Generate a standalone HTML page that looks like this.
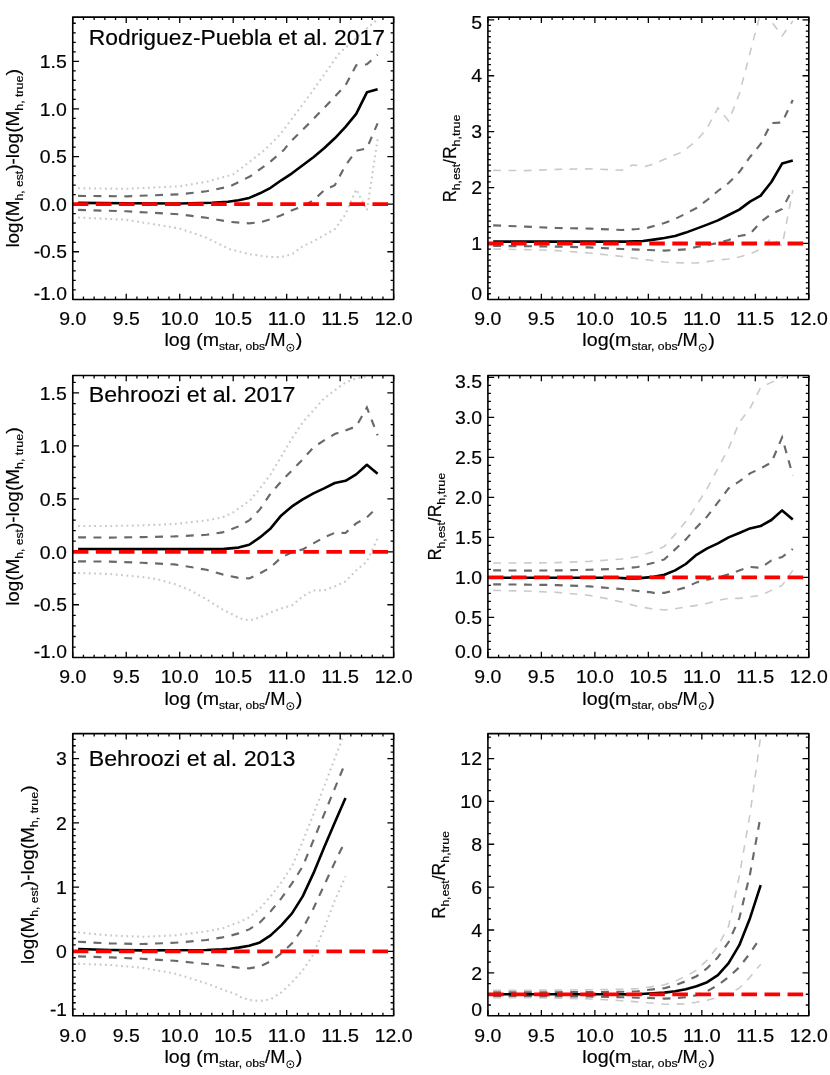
<!DOCTYPE html>
<html><head><meta charset="utf-8"><title>chart</title>
<style>
html,body{margin:0;padding:0;background:#fff;overflow:hidden}
#wrap{width:830px;height:1075px;will-change:transform;background:#fff}
svg{display:block}
text{font-family:"Liberation Sans",sans-serif;stroke:#000;stroke-width:0.18px}
</style></head><body>
<div id="wrap">
<svg width="830" height="1075" viewBox="0 0 830 1075">
<rect width="830" height="1075" fill="#fff"/>
<path d="M72.75 299.45v-5.80M72.75 17.10v5.80M83.45 299.45v-2.90M83.45 17.10v2.90M94.14 299.45v-2.90M94.14 17.10v2.90M104.84 299.45v-2.90M104.84 17.10v2.90M115.54 299.45v-2.90M115.54 17.10v2.90M126.23 299.45v-5.80M126.23 17.10v5.80M136.93 299.45v-2.90M136.93 17.10v2.90M147.63 299.45v-2.90M147.63 17.10v2.90M158.32 299.45v-2.90M158.32 17.10v2.90M169.02 299.45v-2.90M169.02 17.10v2.90M179.72 299.45v-5.80M179.72 17.10v5.80M190.41 299.45v-2.90M190.41 17.10v2.90M201.11 299.45v-2.90M201.11 17.10v2.90M211.81 299.45v-2.90M211.81 17.10v2.90M222.50 299.45v-2.90M222.50 17.10v2.90M233.20 299.45v-5.80M233.20 17.10v5.80M243.90 299.45v-2.90M243.90 17.10v2.90M254.59 299.45v-2.90M254.59 17.10v2.90M265.29 299.45v-2.90M265.29 17.10v2.90M275.99 299.45v-2.90M275.99 17.10v2.90M286.68 299.45v-5.80M286.68 17.10v5.80M297.38 299.45v-2.90M297.38 17.10v2.90M308.08 299.45v-2.90M308.08 17.10v2.90M318.77 299.45v-2.90M318.77 17.10v2.90M329.47 299.45v-2.90M329.47 17.10v2.90M340.17 299.45v-5.80M340.17 17.10v5.80M350.86 299.45v-2.90M350.86 17.10v2.90M361.56 299.45v-2.90M361.56 17.10v2.90M372.26 299.45v-2.90M372.26 17.10v2.90M382.95 299.45v-2.90M382.95 17.10v2.90M393.65 299.45v-5.80M393.65 17.10v5.80M72.75 289.83h3.00M393.65 289.83h-3.00M72.75 280.31h3.00M393.65 280.31h-3.00M72.75 270.79h3.00M393.65 270.79h-3.00M72.75 261.27h3.00M393.65 261.27h-3.00M72.75 251.75h6.30M393.65 251.75h-6.30M72.75 242.23h3.00M393.65 242.23h-3.00M72.75 232.71h3.00M393.65 232.71h-3.00M72.75 223.19h3.00M393.65 223.19h-3.00M72.75 213.67h3.00M393.65 213.67h-3.00M72.75 204.15h6.30M393.65 204.15h-6.30M72.75 194.63h3.00M393.65 194.63h-3.00M72.75 185.11h3.00M393.65 185.11h-3.00M72.75 175.59h3.00M393.65 175.59h-3.00M72.75 166.07h3.00M393.65 166.07h-3.00M72.75 156.55h6.30M393.65 156.55h-6.30M72.75 147.03h3.00M393.65 147.03h-3.00M72.75 137.51h3.00M393.65 137.51h-3.00M72.75 127.99h3.00M393.65 127.99h-3.00M72.75 118.47h3.00M393.65 118.47h-3.00M72.75 108.95h6.30M393.65 108.95h-6.30M72.75 99.43h3.00M393.65 99.43h-3.00M72.75 89.91h3.00M393.65 89.91h-3.00M72.75 80.39h3.00M393.65 80.39h-3.00M72.75 70.87h3.00M393.65 70.87h-3.00M72.75 61.35h6.30M393.65 61.35h-6.30M72.75 51.83h3.00M393.65 51.83h-3.00M72.75 42.31h3.00M393.65 42.31h-3.00M72.75 32.79h3.00M393.65 32.79h-3.00M72.75 23.27h3.00M393.65 23.27h-3.00" stroke="#000" stroke-width="1.3" fill="none"/>
<clipPath id="c1"><rect x="72.75" y="17.10" width="320.90" height="282.35"/></clipPath>
<g clip-path="url(#c1)" fill="none">
<path d="M78.1 188.3 L126.2 188.8 L179.7 186.3 L206.5 181.8 L233.2 174.3 L250.3 161.3 L264.2 150.3 L280.3 134.3 L310.2 94.3 L339.1 53.4 L376.5 20.0 L377.6 18.9" stroke="#c9c9c9" stroke-width="2.1" stroke-dasharray="1.8 3.58"/>
<path d="M78.1 217.5 L126.2 219.8 L179.7 228.5 L206.5 237.8 L230.0 249.3 L250.3 254.3 L269.6 257.0 L281.3 257.0 L292.0 254.3 L302.7 246.3 L313.4 241.3 L324.1 235.3 L334.8 229.3 L345.5 214.3 L356.2 189.3 L366.9 210.3 L377.6 139.3" stroke="#c9c9c9" stroke-width="2.1" stroke-dasharray="1.8 3.58"/>
<path d="M78.1 195.9 L126.2 196.3 L179.7 194.3 L206.5 191.3 L230.0 186.3 L250.3 176.3 L269.6 162.3 L283.5 150.3 L289.9 142.3 L310.2 122.3 L330.5 101.3 L345.5 85.3 L356.2 65.3 L366.9 64.3 L377.6 54.8" stroke="#696969" stroke-width="2.15" stroke-dasharray="7.9 7.5"/>
<path d="M78.1 209.9 L126.2 211.3 L179.7 214.3 L206.5 217.8 L230.0 221.9 L249.2 223.3 L259.9 222.3 L270.6 219.3 L281.3 215.3 L292.0 210.3 L302.7 206.3 L313.4 200.3 L324.1 190.3 L334.8 185.3 L345.5 165.3 L356.2 150.8 L366.9 148.3 L377.6 123.3" stroke="#696969" stroke-width="2.15" stroke-dasharray="7.9 7.5"/>
<path d="M78.1 202.9 L126.2 203.3 L179.7 203.5 L211.8 202.8 L227.9 201.7 L238.5 200.3 L249.2 197.9 L259.9 193.3 L270.6 187.8 L281.3 180.3 L292.0 173.3 L302.7 165.3 L313.4 157.3 L324.1 148.3 L334.8 138.3 L345.5 126.9 L356.2 113.9 L366.9 92.3 L377.6 89.3" stroke="#000" stroke-width="2.6" stroke-linejoin="round"/>
<path d="M72.8 204.2 H388.1" stroke="#ff0000" stroke-width="3.8" stroke-dasharray="15.6 7.45"/>
</g>
<rect x="72.75" y="17.10" width="320.90" height="282.35" fill="none" stroke="#000" stroke-width="1.6" stroke-linejoin="round"/>
<circle cx="290.34" cy="347.70" r="3.55" fill="none" stroke="#000" stroke-width="0.95"/>
<circle cx="290.34" cy="347.70" r="0.95" fill="#000"/>
<path d="M487.90 299.45v-5.80M487.90 17.10v5.80M498.60 299.45v-2.90M498.60 17.10v2.90M509.29 299.45v-2.90M509.29 17.10v2.90M519.99 299.45v-2.90M519.99 17.10v2.90M530.69 299.45v-2.90M530.69 17.10v2.90M541.38 299.45v-5.80M541.38 17.10v5.80M552.08 299.45v-2.90M552.08 17.10v2.90M562.78 299.45v-2.90M562.78 17.10v2.90M573.47 299.45v-2.90M573.47 17.10v2.90M584.17 299.45v-2.90M584.17 17.10v2.90M594.87 299.45v-5.80M594.87 17.10v5.80M605.56 299.45v-2.90M605.56 17.10v2.90M616.26 299.45v-2.90M616.26 17.10v2.90M626.96 299.45v-2.90M626.96 17.10v2.90M637.65 299.45v-2.90M637.65 17.10v2.90M648.35 299.45v-5.80M648.35 17.10v5.80M659.05 299.45v-2.90M659.05 17.10v2.90M669.74 299.45v-2.90M669.74 17.10v2.90M680.44 299.45v-2.90M680.44 17.10v2.90M691.14 299.45v-2.90M691.14 17.10v2.90M701.83 299.45v-5.80M701.83 17.10v5.80M712.53 299.45v-2.90M712.53 17.10v2.90M723.23 299.45v-2.90M723.23 17.10v2.90M733.92 299.45v-2.90M733.92 17.10v2.90M744.62 299.45v-2.90M744.62 17.10v2.90M755.32 299.45v-5.80M755.32 17.10v5.80M766.01 299.45v-2.90M766.01 17.10v2.90M776.71 299.45v-2.90M776.71 17.10v2.90M787.41 299.45v-2.90M787.41 17.10v2.90M798.10 299.45v-2.90M798.10 17.10v2.90M808.80 299.45v-5.80M808.80 17.10v5.80M487.90 293.76h3.00M808.80 293.76h-3.00M487.90 288.17h3.00M808.80 288.17h-3.00M487.90 282.58h3.00M808.80 282.58h-3.00M487.90 276.99h3.00M808.80 276.99h-3.00M487.90 271.40h3.00M808.80 271.40h-3.00M487.90 265.81h3.00M808.80 265.81h-3.00M487.90 260.22h3.00M808.80 260.22h-3.00M487.90 254.63h3.00M808.80 254.63h-3.00M487.90 249.04h3.00M808.80 249.04h-3.00M487.90 243.45h6.30M808.80 243.45h-6.30M487.90 237.86h3.00M808.80 237.86h-3.00M487.90 232.27h3.00M808.80 232.27h-3.00M487.90 226.68h3.00M808.80 226.68h-3.00M487.90 221.09h3.00M808.80 221.09h-3.00M487.90 215.50h3.00M808.80 215.50h-3.00M487.90 209.91h3.00M808.80 209.91h-3.00M487.90 204.32h3.00M808.80 204.32h-3.00M487.90 198.73h3.00M808.80 198.73h-3.00M487.90 193.14h3.00M808.80 193.14h-3.00M487.90 187.55h6.30M808.80 187.55h-6.30M487.90 181.96h3.00M808.80 181.96h-3.00M487.90 176.37h3.00M808.80 176.37h-3.00M487.90 170.78h3.00M808.80 170.78h-3.00M487.90 165.19h3.00M808.80 165.19h-3.00M487.90 159.60h3.00M808.80 159.60h-3.00M487.90 154.01h3.00M808.80 154.01h-3.00M487.90 148.42h3.00M808.80 148.42h-3.00M487.90 142.83h3.00M808.80 142.83h-3.00M487.90 137.24h3.00M808.80 137.24h-3.00M487.90 131.65h6.30M808.80 131.65h-6.30M487.90 126.06h3.00M808.80 126.06h-3.00M487.90 120.47h3.00M808.80 120.47h-3.00M487.90 114.88h3.00M808.80 114.88h-3.00M487.90 109.29h3.00M808.80 109.29h-3.00M487.90 103.70h3.00M808.80 103.70h-3.00M487.90 98.11h3.00M808.80 98.11h-3.00M487.90 92.52h3.00M808.80 92.52h-3.00M487.90 86.93h3.00M808.80 86.93h-3.00M487.90 81.34h3.00M808.80 81.34h-3.00M487.90 75.75h6.30M808.80 75.75h-6.30M487.90 70.16h3.00M808.80 70.16h-3.00M487.90 64.57h3.00M808.80 64.57h-3.00M487.90 58.98h3.00M808.80 58.98h-3.00M487.90 53.39h3.00M808.80 53.39h-3.00M487.90 47.80h3.00M808.80 47.80h-3.00M487.90 42.21h3.00M808.80 42.21h-3.00M487.90 36.62h3.00M808.80 36.62h-3.00M487.90 31.03h3.00M808.80 31.03h-3.00M487.90 25.44h3.00M808.80 25.44h-3.00M487.90 19.85h6.30M808.80 19.85h-6.30" stroke="#000" stroke-width="1.3" fill="none"/>
<clipPath id="c2"><rect x="487.90" y="17.10" width="320.90" height="282.35"/></clipPath>
<g clip-path="url(#c2)" fill="none">
<path d="M493.2 170.4 L525.3 170.6 L557.4 169.4 L589.5 168.8 L621.6 170.2 L632.3 165.0 L645.1 166.4 L653.7 164.0 L665.1 159.0 L681.2 152.4 L696.5 141.0 L707.2 128.0 L717.9 108.0 L728.6 121.0 L739.3 94.0 L750.0 53.0 L760.7 12.0 L771.4 21.5 L782.1 36.0 L792.8 21.0" stroke="#cacaca" stroke-width="1.6" stroke-dasharray="7.8 7.5"/>
<path d="M493.2 249.0 L525.3 249.6 L557.4 250.6 L589.5 253.0 L621.6 256.4 L637.7 258.6 L648.3 260.0 L664.4 262.0 L675.1 262.6 L685.8 263.0 L696.5 263.0 L707.2 261.6 L717.9 260.0 L728.6 259.0 L739.3 257.0 L750.0 254.0 L760.7 249.0 L771.4 238.0 L782.1 246.0 L792.8 190.0" stroke="#cacaca" stroke-width="1.6" stroke-dasharray="7.8 7.5"/>
<path d="M493.2 225.4 L525.3 226.6 L557.4 228.0 L589.5 228.6 L621.6 230.0 L637.7 229.0 L648.3 227.6 L664.4 223.0 L675.1 219.0 L685.8 213.6 L696.5 208.0 L707.2 200.0 L717.9 191.0 L728.6 183.0 L739.3 172.0 L750.0 157.0 L760.7 144.0 L771.4 123.0 L782.1 122.5 L792.8 100.0" stroke="#696969" stroke-width="2.15" stroke-dasharray="7.9 7.5"/>
<path d="M493.2 246.0 L525.3 246.2 L557.4 246.6 L589.5 247.4 L621.6 249.0 L648.3 250.0 L664.4 250.6 L675.1 250.0 L685.8 249.4 L696.5 247.0 L707.2 245.0 L717.9 243.0 L728.6 240.0 L739.3 236.0 L750.0 234.0 L760.7 222.0 L771.4 214.0 L782.1 209.0 L792.8 189.0" stroke="#696969" stroke-width="2.15" stroke-dasharray="7.9 7.5"/>
<path d="M493.2 241.6 L627.0 241.6 L643.0 241.0 L653.7 239.6 L664.4 238.0 L675.1 236.0 L685.8 232.6 L696.5 228.6 L707.2 224.6 L717.9 220.4 L728.6 215.0 L739.3 209.6 L750.0 201.6 L760.7 195.6 L771.4 182.0 L782.1 163.6 L792.8 160.6" stroke="#000" stroke-width="2.6" stroke-linejoin="round"/>
<path d="M487.9 243.5 H803.3" stroke="#ff0000" stroke-width="3.8" stroke-dasharray="15.6 7.45"/>
</g>
<rect x="487.90" y="17.10" width="320.90" height="282.35" fill="none" stroke="#000" stroke-width="1.6" stroke-linejoin="round"/>
<circle cx="702.79" cy="347.70" r="3.55" fill="none" stroke="#000" stroke-width="0.95"/>
<circle cx="702.79" cy="347.70" r="0.95" fill="#000"/>
<path d="M72.75 657.55v-5.80M72.75 375.50v5.80M83.45 657.55v-2.90M83.45 375.50v2.90M94.14 657.55v-2.90M94.14 375.50v2.90M104.84 657.55v-2.90M104.84 375.50v2.90M115.54 657.55v-2.90M115.54 375.50v2.90M126.23 657.55v-5.80M126.23 375.50v5.80M136.93 657.55v-2.90M136.93 375.50v2.90M147.63 657.55v-2.90M147.63 375.50v2.90M158.32 657.55v-2.90M158.32 375.50v2.90M169.02 657.55v-2.90M169.02 375.50v2.90M179.72 657.55v-5.80M179.72 375.50v5.80M190.41 657.55v-2.90M190.41 375.50v2.90M201.11 657.55v-2.90M201.11 375.50v2.90M211.81 657.55v-2.90M211.81 375.50v2.90M222.50 657.55v-2.90M222.50 375.50v2.90M233.20 657.55v-5.80M233.20 375.50v5.80M243.90 657.55v-2.90M243.90 375.50v2.90M254.59 657.55v-2.90M254.59 375.50v2.90M265.29 657.55v-2.90M265.29 375.50v2.90M275.99 657.55v-2.90M275.99 375.50v2.90M286.68 657.55v-5.80M286.68 375.50v5.80M297.38 657.55v-2.90M297.38 375.50v2.90M308.08 657.55v-2.90M308.08 375.50v2.90M318.77 657.55v-2.90M318.77 375.50v2.90M329.47 657.55v-2.90M329.47 375.50v2.90M340.17 657.55v-5.80M340.17 375.50v5.80M350.86 657.55v-2.90M350.86 375.50v2.90M361.56 657.55v-2.90M361.56 375.50v2.90M372.26 657.55v-2.90M372.26 375.50v2.90M382.95 657.55v-2.90M382.95 375.50v2.90M393.65 657.55v-5.80M393.65 375.50v5.80M72.75 647.11h3.00M393.65 647.11h-3.00M72.75 636.52h3.00M393.65 636.52h-3.00M72.75 625.93h3.00M393.65 625.93h-3.00M72.75 615.34h3.00M393.65 615.34h-3.00M72.75 604.75h6.30M393.65 604.75h-6.30M72.75 594.16h3.00M393.65 594.16h-3.00M72.75 583.57h3.00M393.65 583.57h-3.00M72.75 572.98h3.00M393.65 572.98h-3.00M72.75 562.39h3.00M393.65 562.39h-3.00M72.75 551.80h6.30M393.65 551.80h-6.30M72.75 541.21h3.00M393.65 541.21h-3.00M72.75 530.62h3.00M393.65 530.62h-3.00M72.75 520.03h3.00M393.65 520.03h-3.00M72.75 509.44h3.00M393.65 509.44h-3.00M72.75 498.85h6.30M393.65 498.85h-6.30M72.75 488.26h3.00M393.65 488.26h-3.00M72.75 477.67h3.00M393.65 477.67h-3.00M72.75 467.08h3.00M393.65 467.08h-3.00M72.75 456.49h3.00M393.65 456.49h-3.00M72.75 445.90h6.30M393.65 445.90h-6.30M72.75 435.31h3.00M393.65 435.31h-3.00M72.75 424.72h3.00M393.65 424.72h-3.00M72.75 414.13h3.00M393.65 414.13h-3.00M72.75 403.54h3.00M393.65 403.54h-3.00M72.75 392.95h6.30M393.65 392.95h-6.30M72.75 382.36h3.00M393.65 382.36h-3.00" stroke="#000" stroke-width="1.3" fill="none"/>
<clipPath id="c3"><rect x="72.75" y="375.50" width="320.90" height="282.05"/></clipPath>
<g clip-path="url(#c3)" fill="none">
<path d="M78.1 526.0 L110.2 526.0 L142.3 525.4 L174.4 524.0 L206.5 520.4 L222.5 517.4 L233.2 512.4 L250.0 500.4 L259.9 488.4 L270.6 474.4 L281.3 456.4 L292.0 438.4 L302.7 422.4 L313.4 410.4 L324.1 398.4 L334.8 390.4 L345.5 382.4 L356.2 378.4 L368.0 376.0 L377.6 372.4" stroke="#c9c9c9" stroke-width="2.1" stroke-dasharray="1.8 3.58"/>
<path d="M78.1 573.0 L110.2 574.0 L142.3 577.0 L158.3 579.4 L174.4 584.0 L190.4 590.4 L206.5 599.4 L222.5 609.4 L236.4 616.4 L238.5 618.0 L249.2 620.4 L259.9 617.4 L270.6 612.4 L281.3 608.4 L292.0 605.4 L302.7 596.4 L313.4 590.4 L324.1 590.4 L334.8 586.4 L345.5 581.4 L356.2 570.4 L366.9 561.4 L377.6 538.4" stroke="#c9c9c9" stroke-width="2.1" stroke-dasharray="1.8 3.58"/>
<path d="M78.1 537.4 L110.2 537.6 L142.3 537.1 L174.4 536.4 L206.5 534.8 L222.5 532.4 L230.0 529.8 L238.5 526.4 L249.2 520.4 L259.9 509.4 L270.6 493.4 L281.3 481.4 L292.0 470.4 L302.7 459.4 L313.4 447.4 L324.1 440.4 L334.8 434.0 L345.5 430.4 L356.2 426.4 L366.9 407.4 L377.6 435.4" stroke="#696969" stroke-width="2.15" stroke-dasharray="7.9 7.5"/>
<path d="M78.1 561.4 L110.2 561.6 L142.3 562.8 L174.4 564.4 L190.4 567.0 L206.5 569.8 L222.5 574.4 L236.4 577.4 L238.5 578.0 L249.2 578.4 L259.9 573.4 L270.6 567.4 L281.3 557.4 L292.0 552.4 L302.7 549.4 L313.4 543.4 L324.1 537.4 L334.8 532.8 L345.5 533.0 L356.2 523.4 L366.9 517.4 L377.6 507.0" stroke="#696969" stroke-width="2.15" stroke-dasharray="7.9 7.5"/>
<path d="M78.1 549.0 L222.5 549.1 L230.0 548.4 L238.5 547.6 L249.2 544.8 L259.9 537.4 L270.6 528.4 L281.3 515.4 L292.0 506.4 L302.7 499.4 L313.4 493.4 L324.1 488.4 L334.8 483.0 L345.5 480.8 L356.2 474.4 L366.9 464.8 L377.6 473.8" stroke="#000" stroke-width="2.6" stroke-linejoin="round"/>
<path d="M72.8 551.8 H388.1" stroke="#ff0000" stroke-width="3.8" stroke-dasharray="15.6 7.45"/>
</g>
<rect x="72.75" y="375.50" width="320.90" height="282.05" fill="none" stroke="#000" stroke-width="1.6" stroke-linejoin="round"/>
<circle cx="290.34" cy="706.20" r="3.55" fill="none" stroke="#000" stroke-width="0.95"/>
<circle cx="290.34" cy="706.20" r="0.95" fill="#000"/>
<path d="M487.90 657.55v-5.80M487.90 375.50v5.80M498.60 657.55v-2.90M498.60 375.50v2.90M509.29 657.55v-2.90M509.29 375.50v2.90M519.99 657.55v-2.90M519.99 375.50v2.90M530.69 657.55v-2.90M530.69 375.50v2.90M541.38 657.55v-5.80M541.38 375.50v5.80M552.08 657.55v-2.90M552.08 375.50v2.90M562.78 657.55v-2.90M562.78 375.50v2.90M573.47 657.55v-2.90M573.47 375.50v2.90M584.17 657.55v-2.90M584.17 375.50v2.90M594.87 657.55v-5.80M594.87 375.50v5.80M605.56 657.55v-2.90M605.56 375.50v2.90M616.26 657.55v-2.90M616.26 375.50v2.90M626.96 657.55v-2.90M626.96 375.50v2.90M637.65 657.55v-2.90M637.65 375.50v2.90M648.35 657.55v-5.80M648.35 375.50v5.80M659.05 657.55v-2.90M659.05 375.50v2.90M669.74 657.55v-2.90M669.74 375.50v2.90M680.44 657.55v-2.90M680.44 375.50v2.90M691.14 657.55v-2.90M691.14 375.50v2.90M701.83 657.55v-5.80M701.83 375.50v5.80M712.53 657.55v-2.90M712.53 375.50v2.90M723.23 657.55v-2.90M723.23 375.50v2.90M733.92 657.55v-2.90M733.92 375.50v2.90M744.62 657.55v-2.90M744.62 375.50v2.90M755.32 657.55v-5.80M755.32 375.50v5.80M766.01 657.55v-2.90M766.01 375.50v2.90M776.71 657.55v-2.90M776.71 375.50v2.90M787.41 657.55v-2.90M787.41 375.50v2.90M798.10 657.55v-2.90M798.10 375.50v2.90M808.80 657.55v-5.80M808.80 375.50v5.80M487.90 649.30h3.00M808.80 649.30h-3.00M487.90 641.30h3.00M808.80 641.30h-3.00M487.90 633.30h3.00M808.80 633.30h-3.00M487.90 625.30h3.00M808.80 625.30h-3.00M487.90 617.30h6.30M808.80 617.30h-6.30M487.90 609.30h3.00M808.80 609.30h-3.00M487.90 601.30h3.00M808.80 601.30h-3.00M487.90 593.30h3.00M808.80 593.30h-3.00M487.90 585.30h3.00M808.80 585.30h-3.00M487.90 577.30h6.30M808.80 577.30h-6.30M487.90 569.30h3.00M808.80 569.30h-3.00M487.90 561.30h3.00M808.80 561.30h-3.00M487.90 553.30h3.00M808.80 553.30h-3.00M487.90 545.30h3.00M808.80 545.30h-3.00M487.90 537.30h6.30M808.80 537.30h-6.30M487.90 529.30h3.00M808.80 529.30h-3.00M487.90 521.30h3.00M808.80 521.30h-3.00M487.90 513.30h3.00M808.80 513.30h-3.00M487.90 505.30h3.00M808.80 505.30h-3.00M487.90 497.30h6.30M808.80 497.30h-6.30M487.90 489.30h3.00M808.80 489.30h-3.00M487.90 481.30h3.00M808.80 481.30h-3.00M487.90 473.30h3.00M808.80 473.30h-3.00M487.90 465.30h3.00M808.80 465.30h-3.00M487.90 457.30h6.30M808.80 457.30h-6.30M487.90 449.30h3.00M808.80 449.30h-3.00M487.90 441.30h3.00M808.80 441.30h-3.00M487.90 433.30h3.00M808.80 433.30h-3.00M487.90 425.30h3.00M808.80 425.30h-3.00M487.90 417.30h6.30M808.80 417.30h-6.30M487.90 409.30h3.00M808.80 409.30h-3.00M487.90 401.30h3.00M808.80 401.30h-3.00M487.90 393.30h3.00M808.80 393.30h-3.00M487.90 385.30h3.00M808.80 385.30h-3.00M487.90 377.30h6.30M808.80 377.30h-6.30" stroke="#000" stroke-width="1.3" fill="none"/>
<clipPath id="c4"><rect x="487.90" y="375.50" width="320.90" height="282.05"/></clipPath>
<g clip-path="url(#c4)" fill="none">
<path d="M493.2 563.0 L525.3 563.0 L557.4 562.6 L589.5 561.4 L621.6 559.0 L637.7 556.8 L645.1 554.0 L653.7 551.4 L664.4 546.4 L675.1 534.4 L685.8 521.4 L693.3 510.4 L707.2 488.4 L717.9 468.4 L728.6 448.4 L739.3 422.4 L750.0 408.4 L760.7 387.4 L771.4 382.4 L782.1 377.4 L792.8 372.4" stroke="#cacaca" stroke-width="1.6" stroke-dasharray="7.8 7.5"/>
<path d="M493.2 590.4 L525.3 591.0 L557.4 592.4 L589.5 595.4 L605.6 598.4 L621.6 602.0 L637.7 606.4 L651.6 608.8 L653.7 609.0 L664.4 610.0 L675.1 608.8 L685.8 607.0 L696.5 605.4 L707.2 603.4 L717.9 600.4 L728.6 598.4 L739.3 598.4 L750.0 596.8 L760.7 595.4 L771.4 590.4 L782.1 585.4 L792.8 570.4" stroke="#cacaca" stroke-width="1.6" stroke-dasharray="7.8 7.5"/>
<path d="M493.2 570.4 L525.3 570.6 L557.4 570.4 L589.5 569.8 L621.6 568.8 L637.7 567.0 L645.1 564.8 L653.7 562.8 L664.4 559.4 L675.1 549.4 L685.8 539.4 L696.5 527.4 L707.2 516.4 L717.9 502.4 L728.6 488.4 L739.3 481.4 L750.0 473.4 L760.7 468.4 L771.4 462.4 L782.1 437.4 L792.8 475.4" stroke="#696969" stroke-width="2.15" stroke-dasharray="7.9 7.5"/>
<path d="M493.2 584.4 L525.3 584.6 L557.4 585.1 L589.5 586.4 L621.6 589.0 L637.7 591.0 L651.6 592.4 L653.7 592.8 L664.4 592.8 L675.1 590.4 L685.8 587.4 L696.5 582.4 L707.2 579.8 L717.9 577.4 L728.6 574.4 L739.3 570.4 L750.0 567.0 L760.7 567.8 L771.4 560.4 L782.1 557.0 L792.8 549.0" stroke="#696969" stroke-width="2.15" stroke-dasharray="7.9 7.5"/>
<path d="M493.2 577.8 L616.3 577.8 L627.0 578.4 L637.7 578.4 L648.3 577.4 L653.7 576.8 L664.4 574.8 L675.1 570.4 L685.8 564.0 L696.5 554.8 L707.2 548.4 L717.9 543.4 L728.6 537.4 L739.3 533.0 L750.0 528.4 L760.7 526.0 L771.4 520.0 L782.1 510.4 L792.8 519.4" stroke="#000" stroke-width="2.6" stroke-linejoin="round"/>
<path d="M487.9 577.3 H803.3" stroke="#ff0000" stroke-width="3.8" stroke-dasharray="15.6 7.45"/>
</g>
<rect x="487.90" y="375.50" width="320.90" height="282.05" fill="none" stroke="#000" stroke-width="1.6" stroke-linejoin="round"/>
<circle cx="702.79" cy="706.20" r="3.55" fill="none" stroke="#000" stroke-width="0.95"/>
<circle cx="702.79" cy="706.20" r="0.95" fill="#000"/>
<path d="M72.75 1015.75v-5.80M72.75 733.60v5.80M83.45 1015.75v-2.90M83.45 733.60v2.90M94.14 1015.75v-2.90M94.14 733.60v2.90M104.84 1015.75v-2.90M104.84 733.60v2.90M115.54 1015.75v-2.90M115.54 733.60v2.90M126.23 1015.75v-5.80M126.23 733.60v5.80M136.93 1015.75v-2.90M136.93 733.60v2.90M147.63 1015.75v-2.90M147.63 733.60v2.90M158.32 1015.75v-2.90M158.32 733.60v2.90M169.02 1015.75v-2.90M169.02 733.60v2.90M179.72 1015.75v-5.80M179.72 733.60v5.80M190.41 1015.75v-2.90M190.41 733.60v2.90M201.11 1015.75v-2.90M201.11 733.60v2.90M211.81 1015.75v-2.90M211.81 733.60v2.90M222.50 1015.75v-2.90M222.50 733.60v2.90M233.20 1015.75v-5.80M233.20 733.60v5.80M243.90 1015.75v-2.90M243.90 733.60v2.90M254.59 1015.75v-2.90M254.59 733.60v2.90M265.29 1015.75v-2.90M265.29 733.60v2.90M275.99 1015.75v-2.90M275.99 733.60v2.90M286.68 1015.75v-5.80M286.68 733.60v5.80M297.38 1015.75v-2.90M297.38 733.60v2.90M308.08 1015.75v-2.90M308.08 733.60v2.90M318.77 1015.75v-2.90M318.77 733.60v2.90M329.47 1015.75v-2.90M329.47 733.60v2.90M340.17 1015.75v-5.80M340.17 733.60v5.80M350.86 1015.75v-2.90M350.86 733.60v2.90M361.56 1015.75v-2.90M361.56 733.60v2.90M372.26 1015.75v-2.90M372.26 733.60v2.90M382.95 1015.75v-2.90M382.95 733.60v2.90M393.65 1015.75v-5.80M393.65 733.60v5.80M72.75 1009.18h3.00M393.65 1009.18h-3.00M72.75 1002.75h3.00M393.65 1002.75h-3.00M72.75 996.33h3.00M393.65 996.33h-3.00M72.75 989.90h3.00M393.65 989.90h-3.00M72.75 983.48h3.00M393.65 983.48h-3.00M72.75 977.05h3.00M393.65 977.05h-3.00M72.75 970.62h3.00M393.65 970.62h-3.00M72.75 964.20h3.00M393.65 964.20h-3.00M72.75 957.77h3.00M393.65 957.77h-3.00M72.75 951.35h6.30M393.65 951.35h-6.30M72.75 944.93h3.00M393.65 944.93h-3.00M72.75 938.50h3.00M393.65 938.50h-3.00M72.75 932.08h3.00M393.65 932.08h-3.00M72.75 925.65h3.00M393.65 925.65h-3.00M72.75 919.23h3.00M393.65 919.23h-3.00M72.75 912.80h3.00M393.65 912.80h-3.00M72.75 906.38h3.00M393.65 906.38h-3.00M72.75 899.95h3.00M393.65 899.95h-3.00M72.75 893.52h3.00M393.65 893.52h-3.00M72.75 887.10h6.30M393.65 887.10h-6.30M72.75 880.67h3.00M393.65 880.67h-3.00M72.75 874.25h3.00M393.65 874.25h-3.00M72.75 867.83h3.00M393.65 867.83h-3.00M72.75 861.40h3.00M393.65 861.40h-3.00M72.75 854.98h3.00M393.65 854.98h-3.00M72.75 848.55h3.00M393.65 848.55h-3.00M72.75 842.12h3.00M393.65 842.12h-3.00M72.75 835.70h3.00M393.65 835.70h-3.00M72.75 829.27h3.00M393.65 829.27h-3.00M72.75 822.85h6.30M393.65 822.85h-6.30M72.75 816.42h3.00M393.65 816.42h-3.00M72.75 810.00h3.00M393.65 810.00h-3.00M72.75 803.58h3.00M393.65 803.58h-3.00M72.75 797.15h3.00M393.65 797.15h-3.00M72.75 790.73h3.00M393.65 790.73h-3.00M72.75 784.30h3.00M393.65 784.30h-3.00M72.75 777.88h3.00M393.65 777.88h-3.00M72.75 771.45h3.00M393.65 771.45h-3.00M72.75 765.02h3.00M393.65 765.02h-3.00M72.75 758.60h6.30M393.65 758.60h-6.30M72.75 752.17h3.00M393.65 752.17h-3.00M72.75 745.75h3.00M393.65 745.75h-3.00M72.75 739.33h3.00M393.65 739.33h-3.00" stroke="#000" stroke-width="1.3" fill="none"/>
<clipPath id="c5"><rect x="72.75" y="733.60" width="320.90" height="282.15"/></clipPath>
<g clip-path="url(#c5)" fill="none">
<path d="M78.1 932.4 L94.1 934.0 L110.2 935.4 L142.3 936.8 L174.4 935.4 L206.5 931.4 L222.5 928.4 L230.0 925.4 L238.5 922.4 L249.2 917.4 L259.9 908.4 L270.6 896.4 L281.3 882.4 L292.0 866.4 L302.7 841.4 L313.4 814.4 L324.1 786.4 L334.8 758.4 L345.5 730.4" stroke="#c9c9c9" stroke-width="2.1" stroke-dasharray="1.8 3.58"/>
<path d="M78.1 963.8 L110.2 965.0 L142.3 967.8 L174.4 973.4 L206.5 983.4 L222.5 989.4 L236.4 994.4 L238.5 996.4 L249.2 1000.0 L259.9 1001.0 L270.6 999.4 L281.3 992.4 L292.0 982.4 L302.7 970.4 L313.4 954.4 L324.1 928.4 L334.8 900.4 L345.5 876.4" stroke="#c9c9c9" stroke-width="2.1" stroke-dasharray="1.8 3.58"/>
<path d="M78.1 941.8 L110.2 943.4 L142.3 944.0 L174.4 942.8 L206.5 940.0 L222.5 937.4 L230.0 935.8 L238.5 933.4 L249.2 929.4 L259.9 922.4 L270.6 911.4 L281.3 898.4 L292.0 883.4 L302.7 866.4 L313.4 840.4 L324.1 814.4 L334.8 788.4 L345.5 762.4" stroke="#696969" stroke-width="2.15" stroke-dasharray="7.9 7.5"/>
<path d="M78.1 956.4 L110.2 957.4 L142.3 958.8 L174.4 960.8 L206.5 964.0 L222.5 965.8 L236.4 967.4 L238.5 967.8 L249.2 968.4 L259.9 966.4 L270.6 961.4 L281.3 953.4 L292.0 943.4 L302.7 928.4 L313.4 908.4 L324.1 885.4 L334.8 862.4 L345.5 840.4" stroke="#696969" stroke-width="2.15" stroke-dasharray="7.9 7.5"/>
<path d="M78.1 949.0 L110.2 950.0 L142.3 950.4 L206.5 950.0 L222.5 949.4 L230.0 948.8 L238.5 947.6 L249.2 945.8 L259.9 942.4 L270.6 935.4 L281.3 925.4 L292.0 913.4 L302.7 896.4 L313.4 873.4 L324.1 847.4 L334.8 822.4 L345.5 798.0" stroke="#000" stroke-width="2.6" stroke-linejoin="round"/>
<path d="M72.8 951.4 H388.1" stroke="#ff0000" stroke-width="3.8" stroke-dasharray="15.6 7.45"/>
</g>
<rect x="72.75" y="733.60" width="320.90" height="282.15" fill="none" stroke="#000" stroke-width="1.6" stroke-linejoin="round"/>
<circle cx="290.34" cy="1064.30" r="3.55" fill="none" stroke="#000" stroke-width="0.95"/>
<circle cx="290.34" cy="1064.30" r="0.95" fill="#000"/>
<path d="M487.90 1015.75v-5.80M487.90 733.60v5.80M498.60 1015.75v-2.90M498.60 733.60v2.90M509.29 1015.75v-2.90M509.29 733.60v2.90M519.99 1015.75v-2.90M519.99 733.60v2.90M530.69 1015.75v-2.90M530.69 733.60v2.90M541.38 1015.75v-5.80M541.38 733.60v5.80M552.08 1015.75v-2.90M552.08 733.60v2.90M562.78 1015.75v-2.90M562.78 733.60v2.90M573.47 1015.75v-2.90M573.47 733.60v2.90M584.17 1015.75v-2.90M584.17 733.60v2.90M594.87 1015.75v-5.80M594.87 733.60v5.80M605.56 1015.75v-2.90M605.56 733.60v2.90M616.26 1015.75v-2.90M616.26 733.60v2.90M626.96 1015.75v-2.90M626.96 733.60v2.90M637.65 1015.75v-2.90M637.65 733.60v2.90M648.35 1015.75v-5.80M648.35 733.60v5.80M659.05 1015.75v-2.90M659.05 733.60v2.90M669.74 1015.75v-2.90M669.74 733.60v2.90M680.44 1015.75v-2.90M680.44 733.60v2.90M691.14 1015.75v-2.90M691.14 733.60v2.90M701.83 1015.75v-5.80M701.83 733.60v5.80M712.53 1015.75v-2.90M712.53 733.60v2.90M723.23 1015.75v-2.90M723.23 733.60v2.90M733.92 1015.75v-2.90M733.92 733.60v2.90M744.62 1015.75v-2.90M744.62 733.60v2.90M755.32 1015.75v-5.80M755.32 733.60v5.80M766.01 1015.75v-2.90M766.01 733.60v2.90M776.71 1015.75v-2.90M776.71 733.60v2.90M787.41 1015.75v-2.90M787.41 733.60v2.90M798.10 1015.75v-2.90M798.10 733.60v2.90M808.80 1015.75v-5.80M808.80 733.60v5.80M487.90 1004.99h3.00M808.80 1004.99h-3.00M487.90 994.27h3.00M808.80 994.27h-3.00M487.90 983.56h3.00M808.80 983.56h-3.00M487.90 972.84h6.30M808.80 972.84h-6.30M487.90 962.12h3.00M808.80 962.12h-3.00M487.90 951.41h3.00M808.80 951.41h-3.00M487.90 940.70h3.00M808.80 940.70h-3.00M487.90 929.98h6.30M808.80 929.98h-6.30M487.90 919.27h3.00M808.80 919.27h-3.00M487.90 908.55h3.00M808.80 908.55h-3.00M487.90 897.84h3.00M808.80 897.84h-3.00M487.90 887.12h6.30M808.80 887.12h-6.30M487.90 876.41h3.00M808.80 876.41h-3.00M487.90 865.69h3.00M808.80 865.69h-3.00M487.90 854.98h3.00M808.80 854.98h-3.00M487.90 844.26h6.30M808.80 844.26h-6.30M487.90 833.55h3.00M808.80 833.55h-3.00M487.90 822.83h3.00M808.80 822.83h-3.00M487.90 812.12h3.00M808.80 812.12h-3.00M487.90 801.40h6.30M808.80 801.40h-6.30M487.90 790.69h3.00M808.80 790.69h-3.00M487.90 779.97h3.00M808.80 779.97h-3.00M487.90 769.26h3.00M808.80 769.26h-3.00M487.90 758.54h6.30M808.80 758.54h-6.30M487.90 747.83h3.00M808.80 747.83h-3.00M487.90 737.11h3.00M808.80 737.11h-3.00" stroke="#000" stroke-width="1.3" fill="none"/>
<clipPath id="c6"><rect x="487.90" y="733.60" width="320.90" height="282.15"/></clipPath>
<g clip-path="url(#c6)" fill="none">
<path d="M493.2 990.2 L525.3 990.2 L557.4 990.1 L589.5 989.8 L621.6 989.2 L637.7 988.6 L645.1 987.6 L664.4 984.8 L675.1 981.2 L685.8 976.2 L696.5 970.2 L707.2 960.2 L717.9 946.2 L728.6 926.2 L739.3 876.2 L750.0 814.2 L760.7 736.2" stroke="#cacaca" stroke-width="1.6" stroke-dasharray="7.8 7.5"/>
<path d="M493.2 997.6 L525.3 997.7 L557.4 998.1 L589.5 998.9 L605.6 999.7 L621.6 1000.7 L637.7 1001.9 L645.1 1002.6 L664.4 1004.2 L675.1 1004.2 L685.8 1003.8 L696.5 1002.2 L707.2 1000.2 L717.9 997.2 L728.6 993.2 L739.3 988.2 L750.0 977.2 L760.7 964.2" stroke="#cacaca" stroke-width="1.6" stroke-dasharray="7.8 7.5"/>
<path d="M493.2 992.2 L525.3 992.3 L557.4 992.2 L589.5 992.1 L621.6 991.8 L637.7 991.3 L645.1 990.2 L664.4 988.2 L675.1 985.2 L685.8 981.2 L696.5 976.2 L707.2 968.2 L717.9 957.2 L728.6 942.2 L739.3 918.2 L750.0 874.2 L760.7 815.6" stroke="#696969" stroke-width="2.15" stroke-dasharray="7.9 7.5"/>
<path d="M493.2 996.0 L525.3 996.0 L557.4 996.2 L589.5 996.5 L621.6 997.2 L637.7 997.7 L645.1 997.8 L664.4 998.6 L675.1 998.2 L685.8 997.2 L696.5 995.2 L707.2 991.2 L717.9 985.2 L728.6 977.2 L739.3 967.2 L750.0 953.2 L760.7 937.2" stroke="#696969" stroke-width="2.15" stroke-dasharray="7.9 7.5"/>
<path d="M493.2 994.2 L616.3 994.2 L627.0 994.4 L637.7 994.4 L645.1 993.8 L664.4 992.6 L675.1 991.2 L685.8 989.2 L696.5 986.2 L707.2 982.2 L717.9 975.2 L728.6 963.2 L739.3 945.2 L750.0 918.2 L760.7 885.2" stroke="#000" stroke-width="2.6" stroke-linejoin="round"/>
<path d="M487.9 994.3 H803.3" stroke="#ff0000" stroke-width="3.8" stroke-dasharray="15.6 7.45"/>
</g>
<rect x="487.90" y="733.60" width="320.90" height="282.15" fill="none" stroke="#000" stroke-width="1.6" stroke-linejoin="round"/>
<circle cx="702.79" cy="1064.30" r="3.55" fill="none" stroke="#000" stroke-width="0.95"/>
<circle cx="702.79" cy="1064.30" r="0.95" fill="#000"/>
<g style="filter:grayscale(1)">
<text x="59.23" y="324.90" font-size="17.93" textLength="27.04" lengthAdjust="spacingAndGlyphs" fill="#000">9.0</text>
<text x="112.72" y="324.90" font-size="17.93" textLength="27.04" lengthAdjust="spacingAndGlyphs" fill="#000">9.5</text>
<text x="160.79" y="324.90" font-size="17.93" textLength="37.85" lengthAdjust="spacingAndGlyphs" fill="#000">10.0</text>
<text x="214.27" y="324.90" font-size="17.93" textLength="37.85" lengthAdjust="spacingAndGlyphs" fill="#000">10.5</text>
<text x="267.76" y="324.90" font-size="17.93" textLength="37.85" lengthAdjust="spacingAndGlyphs" fill="#000">11.0</text>
<text x="321.24" y="324.90" font-size="17.93" textLength="37.85" lengthAdjust="spacingAndGlyphs" fill="#000">11.5</text>
<text x="374.72" y="324.90" font-size="17.93" textLength="37.85" lengthAdjust="spacingAndGlyphs" fill="#000">12.0</text>
<text x="33.68" y="299.75" font-size="17.93" textLength="33.17" lengthAdjust="spacingAndGlyphs" fill="#000">-1.0</text>
<text x="33.68" y="258.45" font-size="17.93" textLength="33.17" lengthAdjust="spacingAndGlyphs" fill="#000">-0.5</text>
<text x="39.81" y="210.85" font-size="17.93" textLength="27.04" lengthAdjust="spacingAndGlyphs" fill="#000">0.0</text>
<text x="39.81" y="163.25" font-size="17.93" textLength="27.04" lengthAdjust="spacingAndGlyphs" fill="#000">0.5</text>
<text x="39.81" y="115.65" font-size="17.93" textLength="27.04" lengthAdjust="spacingAndGlyphs" fill="#000">1.0</text>
<text x="39.81" y="68.05" font-size="17.93" textLength="27.04" lengthAdjust="spacingAndGlyphs" fill="#000">1.5</text>
<text x="164.53" y="346.30" font-size="17.93" textLength="54.51" lengthAdjust="spacingAndGlyphs" fill="#000">log (m</text>
<text x="219.04" y="350.30" font-size="11.18" textLength="46.01" lengthAdjust="spacingAndGlyphs" stroke-width="0.08" fill="#000">star, obs</text>
<text x="265.05" y="346.30" font-size="17.93" textLength="20.40" lengthAdjust="spacingAndGlyphs" fill="#000">/M</text>
<text x="295.84" y="346.30" font-size="17.93" textLength="6.63" lengthAdjust="spacingAndGlyphs" fill="#000">)</text>
<g transform="translate(18.70 247.62) rotate(-90)">
<text x="0.00" y="0.00" font-size="17.93" textLength="47.21" lengthAdjust="spacingAndGlyphs" fill="#000">log(M</text>
<text x="47.21" y="4.00" font-size="11.18" textLength="29.66" lengthAdjust="spacingAndGlyphs" stroke-width="0.08" fill="#000">h, est</text>
<text x="76.87" y="0.00" font-size="17.93" textLength="59.98" lengthAdjust="spacingAndGlyphs" fill="#000">)-log(M</text>
<text x="136.85" y="4.00" font-size="11.18" textLength="35.21" lengthAdjust="spacingAndGlyphs" stroke-width="0.08" fill="#000">h, true</text>
<text x="172.07" y="0.00" font-size="17.93" textLength="6.63" lengthAdjust="spacingAndGlyphs" fill="#000">)</text>
</g>
<text x="88.70" y="45.00" font-size="21.66" textLength="296.23" lengthAdjust="spacingAndGlyphs" fill="#000">Rodriguez-Puebla et al. 2017</text>
<text x="474.38" y="324.90" font-size="17.93" textLength="27.04" lengthAdjust="spacingAndGlyphs" fill="#000">9.0</text>
<text x="527.87" y="324.90" font-size="17.93" textLength="27.04" lengthAdjust="spacingAndGlyphs" fill="#000">9.5</text>
<text x="575.94" y="324.90" font-size="17.93" textLength="37.85" lengthAdjust="spacingAndGlyphs" fill="#000">10.0</text>
<text x="629.42" y="324.90" font-size="17.93" textLength="37.85" lengthAdjust="spacingAndGlyphs" fill="#000">10.5</text>
<text x="682.91" y="324.90" font-size="17.93" textLength="37.85" lengthAdjust="spacingAndGlyphs" fill="#000">11.0</text>
<text x="736.39" y="324.90" font-size="17.93" textLength="37.85" lengthAdjust="spacingAndGlyphs" fill="#000">11.5</text>
<text x="789.87" y="324.90" font-size="17.93" textLength="37.85" lengthAdjust="spacingAndGlyphs" fill="#000">12.0</text>
<text x="471.18" y="299.75" font-size="17.93" textLength="10.82" lengthAdjust="spacingAndGlyphs" fill="#000">0</text>
<text x="471.18" y="250.15" font-size="17.93" textLength="10.82" lengthAdjust="spacingAndGlyphs" fill="#000">1</text>
<text x="471.18" y="194.25" font-size="17.93" textLength="10.82" lengthAdjust="spacingAndGlyphs" fill="#000">2</text>
<text x="471.18" y="138.35" font-size="17.93" textLength="10.82" lengthAdjust="spacingAndGlyphs" fill="#000">3</text>
<text x="471.18" y="82.45" font-size="17.93" textLength="10.82" lengthAdjust="spacingAndGlyphs" fill="#000">4</text>
<text x="471.18" y="29.39" font-size="17.93" textLength="10.82" lengthAdjust="spacingAndGlyphs" fill="#000">5</text>
<text x="582.38" y="346.30" font-size="17.93" textLength="49.11" lengthAdjust="spacingAndGlyphs" fill="#000">log(m</text>
<text x="631.49" y="350.30" font-size="11.18" textLength="46.01" lengthAdjust="spacingAndGlyphs" stroke-width="0.08" fill="#000">star, obs</text>
<text x="677.49" y="346.30" font-size="17.93" textLength="20.40" lengthAdjust="spacingAndGlyphs" fill="#000">/M</text>
<text x="708.29" y="346.30" font-size="17.93" textLength="6.63" lengthAdjust="spacingAndGlyphs" fill="#000">)</text>
<g transform="translate(455.60 202.02) rotate(-90)">
<text x="0.00" y="0.00" font-size="17.93" textLength="11.81" lengthAdjust="spacingAndGlyphs" fill="#000">R</text>
<text x="11.81" y="4.00" font-size="11.18" textLength="26.29" lengthAdjust="spacingAndGlyphs" stroke-width="0.08" fill="#000">h,est</text>
<text x="38.10" y="0.00" font-size="17.93" textLength="17.54" lengthAdjust="spacingAndGlyphs" fill="#000">/R</text>
<text x="55.64" y="4.00" font-size="11.18" textLength="31.84" lengthAdjust="spacingAndGlyphs" stroke-width="0.08" fill="#000">h,true</text>
</g>
<text x="59.23" y="683.40" font-size="17.93" textLength="27.04" lengthAdjust="spacingAndGlyphs" fill="#000">9.0</text>
<text x="112.72" y="683.40" font-size="17.93" textLength="27.04" lengthAdjust="spacingAndGlyphs" fill="#000">9.5</text>
<text x="160.79" y="683.40" font-size="17.93" textLength="37.85" lengthAdjust="spacingAndGlyphs" fill="#000">10.0</text>
<text x="214.27" y="683.40" font-size="17.93" textLength="37.85" lengthAdjust="spacingAndGlyphs" fill="#000">10.5</text>
<text x="267.76" y="683.40" font-size="17.93" textLength="37.85" lengthAdjust="spacingAndGlyphs" fill="#000">11.0</text>
<text x="321.24" y="683.40" font-size="17.93" textLength="37.85" lengthAdjust="spacingAndGlyphs" fill="#000">11.5</text>
<text x="374.72" y="683.40" font-size="17.93" textLength="37.85" lengthAdjust="spacingAndGlyphs" fill="#000">12.0</text>
<text x="33.68" y="657.85" font-size="17.93" textLength="33.17" lengthAdjust="spacingAndGlyphs" fill="#000">-1.0</text>
<text x="33.68" y="611.45" font-size="17.93" textLength="33.17" lengthAdjust="spacingAndGlyphs" fill="#000">-0.5</text>
<text x="39.81" y="558.50" font-size="17.93" textLength="27.04" lengthAdjust="spacingAndGlyphs" fill="#000">0.0</text>
<text x="39.81" y="505.55" font-size="17.93" textLength="27.04" lengthAdjust="spacingAndGlyphs" fill="#000">0.5</text>
<text x="39.81" y="452.60" font-size="17.93" textLength="27.04" lengthAdjust="spacingAndGlyphs" fill="#000">1.0</text>
<text x="39.81" y="399.65" font-size="17.93" textLength="27.04" lengthAdjust="spacingAndGlyphs" fill="#000">1.5</text>
<text x="164.53" y="704.80" font-size="17.93" textLength="54.51" lengthAdjust="spacingAndGlyphs" fill="#000">log (m</text>
<text x="219.04" y="708.80" font-size="11.18" textLength="46.01" lengthAdjust="spacingAndGlyphs" stroke-width="0.08" fill="#000">star, obs</text>
<text x="265.05" y="704.80" font-size="17.93" textLength="20.40" lengthAdjust="spacingAndGlyphs" fill="#000">/M</text>
<text x="295.84" y="704.80" font-size="17.93" textLength="6.63" lengthAdjust="spacingAndGlyphs" fill="#000">)</text>
<g transform="translate(18.70 605.87) rotate(-90)">
<text x="0.00" y="0.00" font-size="17.93" textLength="47.21" lengthAdjust="spacingAndGlyphs" fill="#000">log(M</text>
<text x="47.21" y="4.00" font-size="11.18" textLength="29.66" lengthAdjust="spacingAndGlyphs" stroke-width="0.08" fill="#000">h, est</text>
<text x="76.87" y="0.00" font-size="17.93" textLength="59.98" lengthAdjust="spacingAndGlyphs" fill="#000">)-log(M</text>
<text x="136.85" y="4.00" font-size="11.18" textLength="35.21" lengthAdjust="spacingAndGlyphs" stroke-width="0.08" fill="#000">h, true</text>
<text x="172.07" y="0.00" font-size="17.93" textLength="6.63" lengthAdjust="spacingAndGlyphs" fill="#000">)</text>
</g>
<text x="88.70" y="401.50" font-size="21.66" textLength="206.63" lengthAdjust="spacingAndGlyphs" fill="#000">Behroozi et al. 2017</text>
<text x="474.38" y="683.40" font-size="17.93" textLength="27.04" lengthAdjust="spacingAndGlyphs" fill="#000">9.0</text>
<text x="527.87" y="683.40" font-size="17.93" textLength="27.04" lengthAdjust="spacingAndGlyphs" fill="#000">9.5</text>
<text x="575.94" y="683.40" font-size="17.93" textLength="37.85" lengthAdjust="spacingAndGlyphs" fill="#000">10.0</text>
<text x="629.42" y="683.40" font-size="17.93" textLength="37.85" lengthAdjust="spacingAndGlyphs" fill="#000">10.5</text>
<text x="682.91" y="683.40" font-size="17.93" textLength="37.85" lengthAdjust="spacingAndGlyphs" fill="#000">11.0</text>
<text x="736.39" y="683.40" font-size="17.93" textLength="37.85" lengthAdjust="spacingAndGlyphs" fill="#000">11.5</text>
<text x="789.87" y="683.40" font-size="17.93" textLength="37.85" lengthAdjust="spacingAndGlyphs" fill="#000">12.0</text>
<text x="454.96" y="657.85" font-size="17.93" textLength="27.04" lengthAdjust="spacingAndGlyphs" fill="#000">0.0</text>
<text x="454.96" y="624.00" font-size="17.93" textLength="27.04" lengthAdjust="spacingAndGlyphs" fill="#000">0.5</text>
<text x="454.96" y="584.00" font-size="17.93" textLength="27.04" lengthAdjust="spacingAndGlyphs" fill="#000">1.0</text>
<text x="454.96" y="544.00" font-size="17.93" textLength="27.04" lengthAdjust="spacingAndGlyphs" fill="#000">1.5</text>
<text x="454.96" y="504.00" font-size="17.93" textLength="27.04" lengthAdjust="spacingAndGlyphs" fill="#000">2.0</text>
<text x="454.96" y="464.00" font-size="17.93" textLength="27.04" lengthAdjust="spacingAndGlyphs" fill="#000">2.5</text>
<text x="454.96" y="424.00" font-size="17.93" textLength="27.04" lengthAdjust="spacingAndGlyphs" fill="#000">3.0</text>
<text x="454.96" y="387.79" font-size="17.93" textLength="27.04" lengthAdjust="spacingAndGlyphs" fill="#000">3.5</text>
<text x="582.38" y="704.80" font-size="17.93" textLength="49.11" lengthAdjust="spacingAndGlyphs" fill="#000">log(m</text>
<text x="631.49" y="708.80" font-size="11.18" textLength="46.01" lengthAdjust="spacingAndGlyphs" stroke-width="0.08" fill="#000">star, obs</text>
<text x="677.49" y="704.80" font-size="17.93" textLength="20.40" lengthAdjust="spacingAndGlyphs" fill="#000">/M</text>
<text x="708.29" y="704.80" font-size="17.93" textLength="6.63" lengthAdjust="spacingAndGlyphs" fill="#000">)</text>
<g transform="translate(440.60 560.27) rotate(-90)">
<text x="0.00" y="0.00" font-size="17.93" textLength="11.81" lengthAdjust="spacingAndGlyphs" fill="#000">R</text>
<text x="11.81" y="4.00" font-size="11.18" textLength="26.29" lengthAdjust="spacingAndGlyphs" stroke-width="0.08" fill="#000">h,est</text>
<text x="38.10" y="0.00" font-size="17.93" textLength="17.54" lengthAdjust="spacingAndGlyphs" fill="#000">/R</text>
<text x="55.64" y="4.00" font-size="11.18" textLength="31.84" lengthAdjust="spacingAndGlyphs" stroke-width="0.08" fill="#000">h,true</text>
</g>
<text x="59.23" y="1041.50" font-size="17.93" textLength="27.04" lengthAdjust="spacingAndGlyphs" fill="#000">9.0</text>
<text x="112.72" y="1041.50" font-size="17.93" textLength="27.04" lengthAdjust="spacingAndGlyphs" fill="#000">9.5</text>
<text x="160.79" y="1041.50" font-size="17.93" textLength="37.85" lengthAdjust="spacingAndGlyphs" fill="#000">10.0</text>
<text x="214.27" y="1041.50" font-size="17.93" textLength="37.85" lengthAdjust="spacingAndGlyphs" fill="#000">10.5</text>
<text x="267.76" y="1041.50" font-size="17.93" textLength="37.85" lengthAdjust="spacingAndGlyphs" fill="#000">11.0</text>
<text x="321.24" y="1041.50" font-size="17.93" textLength="37.85" lengthAdjust="spacingAndGlyphs" fill="#000">11.5</text>
<text x="374.72" y="1041.50" font-size="17.93" textLength="37.85" lengthAdjust="spacingAndGlyphs" fill="#000">12.0</text>
<text x="49.90" y="1016.05" font-size="17.93" textLength="16.95" lengthAdjust="spacingAndGlyphs" fill="#000">-1</text>
<text x="56.03" y="958.05" font-size="17.93" textLength="10.82" lengthAdjust="spacingAndGlyphs" fill="#000">0</text>
<text x="56.03" y="893.80" font-size="17.93" textLength="10.82" lengthAdjust="spacingAndGlyphs" fill="#000">1</text>
<text x="56.03" y="829.55" font-size="17.93" textLength="10.82" lengthAdjust="spacingAndGlyphs" fill="#000">2</text>
<text x="56.03" y="765.30" font-size="17.93" textLength="10.82" lengthAdjust="spacingAndGlyphs" fill="#000">3</text>
<text x="164.53" y="1062.90" font-size="17.93" textLength="54.51" lengthAdjust="spacingAndGlyphs" fill="#000">log (m</text>
<text x="219.04" y="1066.90" font-size="11.18" textLength="46.01" lengthAdjust="spacingAndGlyphs" stroke-width="0.08" fill="#000">star, obs</text>
<text x="265.05" y="1062.90" font-size="17.93" textLength="20.40" lengthAdjust="spacingAndGlyphs" fill="#000">/M</text>
<text x="295.84" y="1062.90" font-size="17.93" textLength="6.63" lengthAdjust="spacingAndGlyphs" fill="#000">)</text>
<g transform="translate(34.20 964.02) rotate(-90)">
<text x="0.00" y="0.00" font-size="17.93" textLength="47.21" lengthAdjust="spacingAndGlyphs" fill="#000">log(M</text>
<text x="47.21" y="4.00" font-size="11.18" textLength="29.66" lengthAdjust="spacingAndGlyphs" stroke-width="0.08" fill="#000">h, est</text>
<text x="76.87" y="0.00" font-size="17.93" textLength="59.98" lengthAdjust="spacingAndGlyphs" fill="#000">)-log(M</text>
<text x="136.85" y="4.00" font-size="11.18" textLength="35.21" lengthAdjust="spacingAndGlyphs" stroke-width="0.08" fill="#000">h, true</text>
<text x="172.07" y="0.00" font-size="17.93" textLength="6.63" lengthAdjust="spacingAndGlyphs" fill="#000">)</text>
</g>
<text x="88.70" y="766.00" font-size="21.66" textLength="206.63" lengthAdjust="spacingAndGlyphs" fill="#000">Behroozi et al. 2013</text>
<text x="474.38" y="1041.50" font-size="17.93" textLength="27.04" lengthAdjust="spacingAndGlyphs" fill="#000">9.0</text>
<text x="527.87" y="1041.50" font-size="17.93" textLength="27.04" lengthAdjust="spacingAndGlyphs" fill="#000">9.5</text>
<text x="575.94" y="1041.50" font-size="17.93" textLength="37.85" lengthAdjust="spacingAndGlyphs" fill="#000">10.0</text>
<text x="629.42" y="1041.50" font-size="17.93" textLength="37.85" lengthAdjust="spacingAndGlyphs" fill="#000">10.5</text>
<text x="682.91" y="1041.50" font-size="17.93" textLength="37.85" lengthAdjust="spacingAndGlyphs" fill="#000">11.0</text>
<text x="736.39" y="1041.50" font-size="17.93" textLength="37.85" lengthAdjust="spacingAndGlyphs" fill="#000">11.5</text>
<text x="789.87" y="1041.50" font-size="17.93" textLength="37.85" lengthAdjust="spacingAndGlyphs" fill="#000">12.0</text>
<text x="471.18" y="1016.05" font-size="17.93" textLength="10.82" lengthAdjust="spacingAndGlyphs" fill="#000">0</text>
<text x="471.18" y="979.54" font-size="17.93" textLength="10.82" lengthAdjust="spacingAndGlyphs" fill="#000">2</text>
<text x="471.18" y="936.68" font-size="17.93" textLength="10.82" lengthAdjust="spacingAndGlyphs" fill="#000">4</text>
<text x="471.18" y="893.82" font-size="17.93" textLength="10.82" lengthAdjust="spacingAndGlyphs" fill="#000">6</text>
<text x="471.18" y="850.96" font-size="17.93" textLength="10.82" lengthAdjust="spacingAndGlyphs" fill="#000">8</text>
<text x="460.37" y="808.10" font-size="17.93" textLength="21.63" lengthAdjust="spacingAndGlyphs" fill="#000">10</text>
<text x="460.37" y="765.24" font-size="17.93" textLength="21.63" lengthAdjust="spacingAndGlyphs" fill="#000">12</text>
<text x="582.38" y="1062.90" font-size="17.93" textLength="49.11" lengthAdjust="spacingAndGlyphs" fill="#000">log(m</text>
<text x="631.49" y="1066.90" font-size="11.18" textLength="46.01" lengthAdjust="spacingAndGlyphs" stroke-width="0.08" fill="#000">star, obs</text>
<text x="677.49" y="1062.90" font-size="17.93" textLength="20.40" lengthAdjust="spacingAndGlyphs" fill="#000">/M</text>
<text x="708.29" y="1062.90" font-size="17.93" textLength="6.63" lengthAdjust="spacingAndGlyphs" fill="#000">)</text>
<g transform="translate(445.40 918.42) rotate(-90)">
<text x="0.00" y="0.00" font-size="17.93" textLength="11.81" lengthAdjust="spacingAndGlyphs" fill="#000">R</text>
<text x="11.81" y="4.00" font-size="11.18" textLength="26.29" lengthAdjust="spacingAndGlyphs" stroke-width="0.08" fill="#000">h,est</text>
<text x="38.10" y="0.00" font-size="17.93" textLength="17.54" lengthAdjust="spacingAndGlyphs" fill="#000">/R</text>
<text x="55.64" y="4.00" font-size="11.18" textLength="31.84" lengthAdjust="spacingAndGlyphs" stroke-width="0.08" fill="#000">h,true</text>
</g>
</g>
</svg>
</div>
</body></html>
